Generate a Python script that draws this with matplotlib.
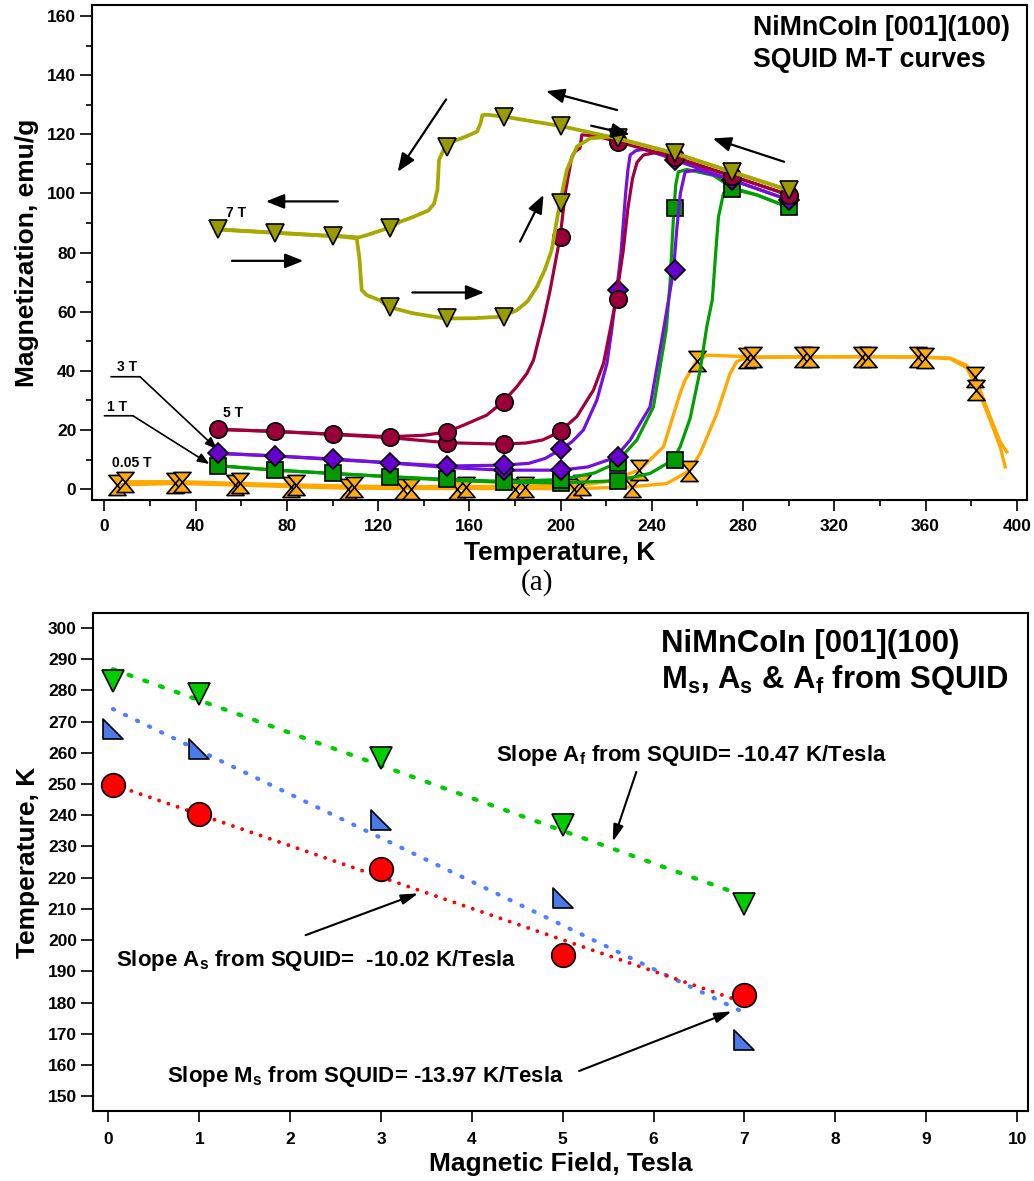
import numpy as np
import matplotlib
matplotlib.use("Agg")
import matplotlib.pyplot as plt
from matplotlib.path import Path
from matplotlib.ticker import MultipleLocator

plt.rcParams['font.family'] = ['Liberation Sans', 'DejaVu Sans']
plt.rcParams['font.weight'] = 'bold'
plt.rcParams['mathtext.fontset'] = 'custom'
plt.rcParams['mathtext.rm'] = 'Liberation Sans:bold'
plt.rcParams['mathtext.it'] = 'Liberation Sans:bold'
plt.rcParams['mathtext.bf'] = 'Liberation Sans:bold'
plt.rcParams['axes.linewidth'] = 1.5

# ================= Panel (a): SQUID M-T curves =================
field_labels = ['0.05 T', '1 T', '3 T', '5 T', '7 T']

# ---- 7 T (olive, down triangles)
t7_cool = [300, 275, 250, 225, 200, 175, 168, 165.7, 164.9, 163.4, 158.4, 152.5, 149.3, 146.7, 146,
           144.5, 142, 135.5, 129.6, 124.9, 115, 111.4, 103.3, 99.4, 75, 50]
m7_cool = [101.1, 107.3, 113.6, 118.6, 122.8, 126, 126.6, 126.5, 123.7, 120.9, 119.2, 117.5, 115.8,
           111.3, 101.2, 96.5, 94.2, 92.1, 90.4, 88.4, 85.9, 85.1, 85.6, 85.6, 86.7, 87.8]
t7_heat = [50, 75, 99.4, 105, 110.6, 111.8, 112.8, 115, 120.9, 124.1, 135, 149.4, 162, 174.2, 180.8,
           185.5, 189.6, 193, 196.1, 199.5, 202.7, 207.1, 212.9, 221.7, 224.6, 249.8, 275, 299.9]
m7_heat = [87.8, 86.7, 85.6, 85.3, 84.8, 78, 67.3, 65.6, 63.8, 61.7, 59.5, 57.7, 57.8, 58.3, 60.5,
           63.5, 68.4, 74, 80.9, 96, 107.9, 115.8, 118.6, 119.2, 118.6, 113.6, 107.3, 101.1]
t7_mk_cool = [300, 275, 250, 225, 200, 175, 150, 125, 100, 75, 50]
m7_mk_cool = [101.1, 107.3, 113.6, 118.6, 122.8, 126, 115.8, 88.4, 85.6, 86.7, 87.8]
t7_mk_heat = [125, 150, 175, 200]
m7_mk_heat = [61.7, 57.7, 58.3, 96.6]

# ---- 5 T (crimson, circles)
t5_cool = [300, 275, 250, 225, 215, 209.3, 208.5, 206.4, 204.9, 202, 200.5, 199.8, 198, 195.4, 192.5,
           190.3, 188.1, 185.2, 180.8, 174.7, 167.6, 157.4, 150, 140, 125, 100, 75, 50]
m5_cool = [99.5, 105.9, 112.2, 117.5, 119.5, 119.8, 115.3, 114.2, 112.4, 100, 89.9, 85.4, 78, 67.3, 57,
           50.4, 43.6, 39.1, 34.6, 29.5, 25, 21.6, 19.3, 18.2, 17.7, 18.6, 19.5, 20.2]
t5_heat = [50, 75, 100, 125, 150, 175, 185, 192, 196, 200, 207.1, 214.4, 218.8, 221.7, 224.3, 227.5,
           229.5, 231.5, 233.5, 236.3, 243.6, 250, 275, 300]
m5_heat = [20.2, 19.5, 18.5, 17.4, 15.7, 15.2, 15.6, 16.6, 18, 19.7, 24.5, 33.5, 42.5, 53.8, 64.2, 80.9,
           95, 105, 110.5, 113, 114.1, 112.2, 105.9, 99.5]
t5_mk_cool = [300, 275, 250, 225, 200, 175, 150, 125, 100, 75, 50]
m5_mk_cool = [99.5, 105.9, 112.2, 117.5, 85.4, 29.5, 19.3, 17.7, 18.6, 19.5, 20.2]
t5_mk_heat = [150, 175, 200, 225]
m5_mk_heat = [15.7, 15.2, 19.7, 64.2]

# ---- 3 T (purple, diamonds)
t3_cool = [300, 275, 250, 245, 236.3, 233, 230.5, 229.5, 228.5, 227.5, 226.5, 224.6, 222.4, 220.3, 215.9,
           210, 205, 200, 193.3, 186, 175, 150, 125, 100, 75, 50]
m3_cool = [97.8, 104.6, 111.3, 112.8, 114.9, 114.5, 113, 108, 100, 90, 80, 67.3, 53.8, 42.5, 30.1,
           20, 16, 13.4, 10.4, 8.7, 8.1, 7.8, 8.9, 10.2, 11.2, 12.1]
t3_heat = [50, 75, 100, 125, 150, 175, 200, 212, 224, 230.5, 239.2, 245.1, 249.5, 250.9, 252.5, 254.6,
           259.7, 269.9, 275, 300]
m3_heat = [12.1, 11.2, 10.0, 8.9, 7.3, 6.4, 6.4, 7.5, 10.7, 16.6, 27.8, 53.8, 74, 87.6, 100, 107.3,
           107.9, 105.7, 104.6, 97.8]
t3_mk_cool = [300, 275, 250, 225, 200, 175, 150, 125, 100, 75, 50]
m3_mk_cool = [97.8, 104.6, 111.3, 67.3, 13.4, 8.1, 7.8, 8.9, 10.2, 11.2, 12.1]
t3_mk_heat = [175, 200, 225, 250]
m3_mk_heat = [6.4, 6.4, 10.7, 74]

# ---- 1 T (green, squares)
t1_cool = [300, 286, 275, 267, 255.3, 251.6, 250.5, 249.7, 249, 248, 246.3, 240.7, 233.4, 224.1, 215,
           200, 175, 150, 125, 100, 75, 50]
m1_cool = [95.3, 99.5, 102, 106.1, 108.1, 107.3, 103, 95, 85, 70, 53.8, 27.8, 16.6, 8.7, 5.5,
           3.2, 2.6, 3.3, 4.2, 5.3, 6.4, 7.9]
t1_heat = [50, 75, 100, 125, 150, 175, 200, 224.3, 239.2, 249.2, 252.4, 256.8, 261.2, 264.1, 266.5,
           268, 269.2, 271.4, 275, 286, 300]
m1_heat = [7.9, 6.4, 5.3, 4.2, 3.0, 2.3, 2.1, 2.8, 5.3, 9.8, 14.3, 24, 40.3, 55, 64,
           80, 92, 100, 101.5, 99.5, 95.3]
t1_mk_cool = [300, 275, 250, 225, 200, 175, 150, 125, 100, 75, 50]
m1_mk_cool = [95.3, 101.5, 95, 8.7, 3.2, 2.5, 3.3, 4.2, 5.3, 6.4, 7.9]
t1_mk_heat = [200, 225, 250]
m1_mk_heat = [2.1, 2.6, 9.8]

# ---- 0.05 T (orange, hourglass)
t005_cool = [395.6, 392.7, 388.3, 383.9, 378.1, 370.8, 360, 335, 310, 285, 264.1, 259.7, 254.6, 252.4,
             245.1, 234.5, 220, 209.3, 184.6, 158.3, 134.4, 109.6, 84.1, 59.4, 33.9, 9.2]
m005_cool = [12.6, 16, 24.5, 33.5, 41.8, 44.3, 44.6, 44.7, 44.7, 44.7, 45.3, 43.4, 36.9, 32.4,
             14.3, 6.4, 2.5, 1.4, 1.0, 0.9, 0.8, 1.0, 1.4, 1.9, 2.5, 2.5]
t005_heat = [5.5, 31, 57.2, 82, 106.7, 130.7, 154.7, 180.2, 205.7, 231.2, 246.6, 256.5, 261.2, 268.5,
             274.3, 277.2, 281.6, 306.4, 332, 356.9, 370.8, 378.1, 383.9, 388.3, 392.7, 394.9]
m005_heat = [1.4, 1.9, 1.4, 0.8, 0.3, 0.2, 0.2, 0.2, 0.1, 0.8, 1.9, 6.2, 12.1, 25.6,
             39.1, 43.1, 44.5, 44.7, 44.8, 44.7, 44.1, 41, 32, 23.3, 14.3, 7.5]
t005_mk_cool = [9.2, 33.9, 59.4, 84.1, 109.6, 134.4, 158.3, 184.6, 209.3, 234.5, 259.7, 284.5, 309.4,
                334.9, 359.8, 382.2]
m005_mk_cool = [2.5, 2.5, 1.9, 1.4, 0.8, 0.2, 0.8, 0.8, 1.4, 6.4, 43.4, 44.7, 44.7, 44.6, 44.3, 33.5]
t005_mk_heat = [5.5, 31, 57.2, 82, 106.7, 130.7, 154.7, 180.2, 205.7, 231.2, 256.5, 281.6, 306.4,
                332, 356.9, 381.7]
m005_mk_heat = [1.4, 1.9, 1.4, 0.8, 0.2, 0.2, 0.2, 0.2, -0.1, 0.8, 6.2, 44.5, 44.7, 44.8, 44.7, 37.8]

# ================= Panel (b): transformation temperatures =================
fields = [0.05, 1, 3, 5, 7]
ms_temp = [249.7, 240.4, 222.7, 195.2, 182.4]   # red circles
as_temp = [267.7, 261.3, 238.5, 213.5, 168.0]   # blue right triangles
af_temp = [283.1, 278.8, 258.4, 236.9, 211.5]   # green down triangles

# ---------------- custom markers ----------------
hourglass = Path([(-0.85, 1), (0.85, 1), (0, 0), (0.85, -1), (-0.85, -1), (0, 0), (-0.85, 1)],
                 [Path.MOVETO, Path.LINETO, Path.LINETO, Path.LINETO, Path.LINETO, Path.LINETO,
                  Path.CLOSEPOLY])
right_tri = Path([(-1, 1), (-1, -1), (1, -1), (-1, 1)],
                 [Path.MOVETO, Path.LINETO, Path.LINETO, Path.CLOSEPOLY])

fig = plt.figure(figsize=(10.34, 11.81), dpi=100)
ax1 = fig.add_axes([0.0893, 0.5766, 0.9040, 0.4191])
ax2 = fig.add_axes([0.0899, 0.0593, 0.9043, 0.4217])

series = [
    (t005_cool, m005_cool, t005_heat, m005_heat, t005_mk_cool, m005_mk_cool, t005_mk_heat, m005_mk_heat,
     '#FFA800', '#FFAA10', hourglass, 14.5, 2.4),
    (t1_cool, m1_cool, t1_heat, m1_heat, t1_mk_cool, m1_mk_cool, t1_mk_heat, m1_mk_heat,
     '#00A000', '#009900', 's', 12, 2.3),
    (t3_cool, m3_cool, t3_heat, m3_heat, t3_mk_cool, m3_mk_cool, t3_mk_heat, m3_mk_heat,
     '#7310E0', '#6600CC', 'D', 9.8, 2.3),
    (t5_cool, m5_cool, t5_heat, m5_heat, t5_mk_cool, m5_mk_cool, t5_mk_heat, m5_mk_heat,
     '#A0003C', '#99003A', 'o', 12.5, 2.3),
    (t7_cool, m7_cool, t7_heat, m7_heat, t7_mk_cool, m7_mk_cool, t7_mk_heat, m7_mk_heat,
     '#A8A800', '#999900', 'v', 13, 2.7),
]
for i, (tc, mc, th, mh, tmc, mmc, tmh, mmh, lc, fc, mk, ms, lw) in enumerate(series):
    z = 2 + 2 * i
    ax1.plot(tc, mc, color=lc, lw=lw, zorder=z, solid_joinstyle='round')
    ax1.plot(th, mh, color=lc, lw=lw, zorder=z, solid_joinstyle='round')
    for tt, mm in ((tmh, mmh), (tmc, mmc)):
        ax1.plot(tt, mm, ls='none', marker=mk, ms=ms, mfc=fc, mec='black', mew=1.2, zorder=z + 1)

ax1.set_xlim(-5.3, 404.5)
ax1.set_ylim(-3.7, 163.7)
ax1.xaxis.set_major_locator(MultipleLocator(40))
ax1.xaxis.set_minor_locator(MultipleLocator(20))
ax1.yaxis.set_major_locator(MultipleLocator(20))
ax1.yaxis.set_minor_locator(MultipleLocator(10))
ax1.tick_params(axis='x', which='major', direction='out', length=8, width=1.2, pad=6, labelsize=12.5)
ax1.tick_params(axis='x', which='minor', direction='out', length=4.5, width=1.2)
ax1.tick_params(axis='y', which='major', direction='out', length=8.5, width=1.2, pad=3, labelsize=12.5)
ax1.tick_params(axis='y', which='minor', direction='out', length=4.5, width=1.2)
ax1.set_xlabel('Temperature, K', fontsize=19, fontweight='bold', labelpad=5)
ax1.set_ylabel('Magnetization, emu/g', fontsize=19, fontweight='bold', labelpad=6)

ax1.text(0.707, 0.939, 'NiMnCoIn [001](100)', transform=ax1.transAxes, fontsize=19.3,
         fontweight='bold', ha='left', va='baseline')
ax1.text(0.707, 0.875, 'SQUID M-T curves', transform=ax1.transAxes, fontsize=19.3,
         fontweight='bold', ha='left', va='baseline')

# field labels
lab_kw = dict(fontsize=10, fontweight='bold', ha='center', va='baseline', zorder=20)
ax1.text(57.7, 92.1, field_labels[4], **lab_kw)
ax1.text(56.4, 24.3, field_labels[3], **lab_kw)
ax1.text(9.8, 39.9, field_labels[2], **lab_kw)
ax1.text(5.6, 26.4, field_labels[1], **lab_kw)
ax1.text(12.0, 7.5, field_labels[0], **lab_kw)
small_arrow = dict(arrowstyle='-|>,head_length=0.5,head_width=0.2', mutation_scale=14, lw=1.2,
                   color='black', shrinkA=0, shrinkB=0)
plain = dict(arrowstyle='-', lw=1.2, color='black', shrinkA=0, shrinkB=0)
ax1.annotate('', xy=(15.6, 38.0), xytext=(2.9, 38.0), arrowprops=plain)
ax1.annotate('', xy=(49.3, 13.6), xytext=(15.6, 38.0), arrowprops=small_arrow)
ax1.annotate('', xy=(12.5, 24.8), xytext=(0.0, 24.8), arrowprops=plain)
ax1.annotate('', xy=(46.0, 8.5), xytext=(12.5, 24.8), arrowprops=small_arrow)

# direction arrows
big_arrow = dict(arrowstyle='-|>,head_length=0.55,head_width=0.22', mutation_scale=20, lw=1.6,
                 color='black', shrinkA=0, shrinkB=0)
for (x0, y0), (x1, y1) in [((149.8, 131.8), (128.6, 107.3)),
                           ((102.3, 97.3), (70.8, 97.3)),
                           ((55.9, 77.2), (87.2, 77.2)),
                           ((135.0, 66.5), (166.5, 66.5)),
                           ((182.2, 83.7), (192.5, 99.5)),
                           ((224.8, 128.2), (193.6, 134.6)),
                           ((213.4, 122.9), (230.3, 119.9)),
                           ((298.0, 110.7), (266.7, 118.6))]:
    ax1.annotate('', xy=(x1, y1), xytext=(x0, y0), arrowprops=big_arrow, zorder=30)

# ---------------- panel (b) ----------------
fit_styles = [
    (as_temp, '#4D7FFF', (0, (0.3, 2.9)), 3.0),
    (ms_temp, '#FF0000', (0, (0.01, 2.5)), 2.8),
    (af_temp, '#00CC00', (0, (0.7, 3.17)), 3.1),
]
xf = np.array([fields[0], fields[-1]])
for temps, col, ls, lw in fit_styles:
    k, b = np.polyfit(fields, temps, 1)
    ax2.plot(xf, k * xf + b, color=col, ls=ls, lw=lw, dash_capstyle='round', zorder=3)

ax2.plot(fields, af_temp, ls='none', marker='v', ms=16, mfc='#00CC00', mec='black', mew=1.2, zorder=5)
ax2.plot(fields, as_temp, ls='none', marker=right_tri, ms=14, mfc='#4A7AE8', mec='black', mew=1.2, zorder=5)
ax2.plot(fields, ms_temp, ls='none', marker='o', ms=17, mfc='#FF0000', mec='black', mew=1.2, zorder=5)

ax2.set_xlim(-0.17, 10.12)
ax2.set_ylim(145.3, 304.8)
ax2.set_xticks(np.arange(0, 11, 1))
ax2.set_yticks(np.arange(150, 301, 10))
ax2.tick_params(axis='x', direction='out', length=8, width=1.2, pad=7, labelsize=12.5)
ax2.tick_params(axis='y', direction='out', length=8.5, width=1.2, pad=3, labelsize=12.5)
ax2.set_xlabel('Magnetic Field, Tesla', fontsize=19, fontweight='bold', labelpad=4)
ax2.set_ylabel('Temperature, K', fontsize=19, fontweight='bold', labelpad=6)

ax2.text(0.608, 0.922, 'NiMnCoIn [001](100)', transform=ax2.transAxes, fontsize=22.3,
         fontweight='bold', ha='left', va='baseline')
ax2.text(0.608, 0.849, r'M$_\mathregular{s}$, A$_\mathregular{s}$ & A$_\mathregular{f}$ from SQUID',
         transform=ax2.transAxes, fontsize=22.3, fontweight='bold', ha='left', va='baseline')

txt_kw = dict(fontsize=16, fontweight='bold', ha='left', va='baseline')
ax2.text(4.27, 257.5, r'Slope A$_\mathregular{f}$ from SQUID= -10.47 K/Tesla', **txt_kw)
ax2.text(0.08, 191.7, r'Slope A$_\mathregular{s}$ from SQUID=  -10.02 K/Tesla', **txt_kw)
ax2.text(0.64, 154.6, r'Slope M$_\mathregular{s}$ from SQUID= -13.97 K/Tesla', **txt_kw)
thin_arrow = dict(arrowstyle='-|>,head_length=0.6,head_width=0.18', mutation_scale=17, lw=1.5,
                  color='black', shrinkA=0, shrinkB=0)
ax2.annotate('', xy=(5.55, 231.5), xytext=(5.81, 253.9), arrowprops=thin_arrow)
ax2.annotate('', xy=(3.41, 215.0), xytext=(2.17, 201.6), arrowprops=thin_arrow)
ax2.annotate('', xy=(6.86, 177.2), xytext=(5.18, 158.1), arrowprops=thin_arrow)

fig.text(0.519, 0.5004, '(a)', family='Liberation Serif', fontweight='normal', fontsize=21,
         ha='center', va='baseline')

fig.savefig('out.png', dpi=100)
